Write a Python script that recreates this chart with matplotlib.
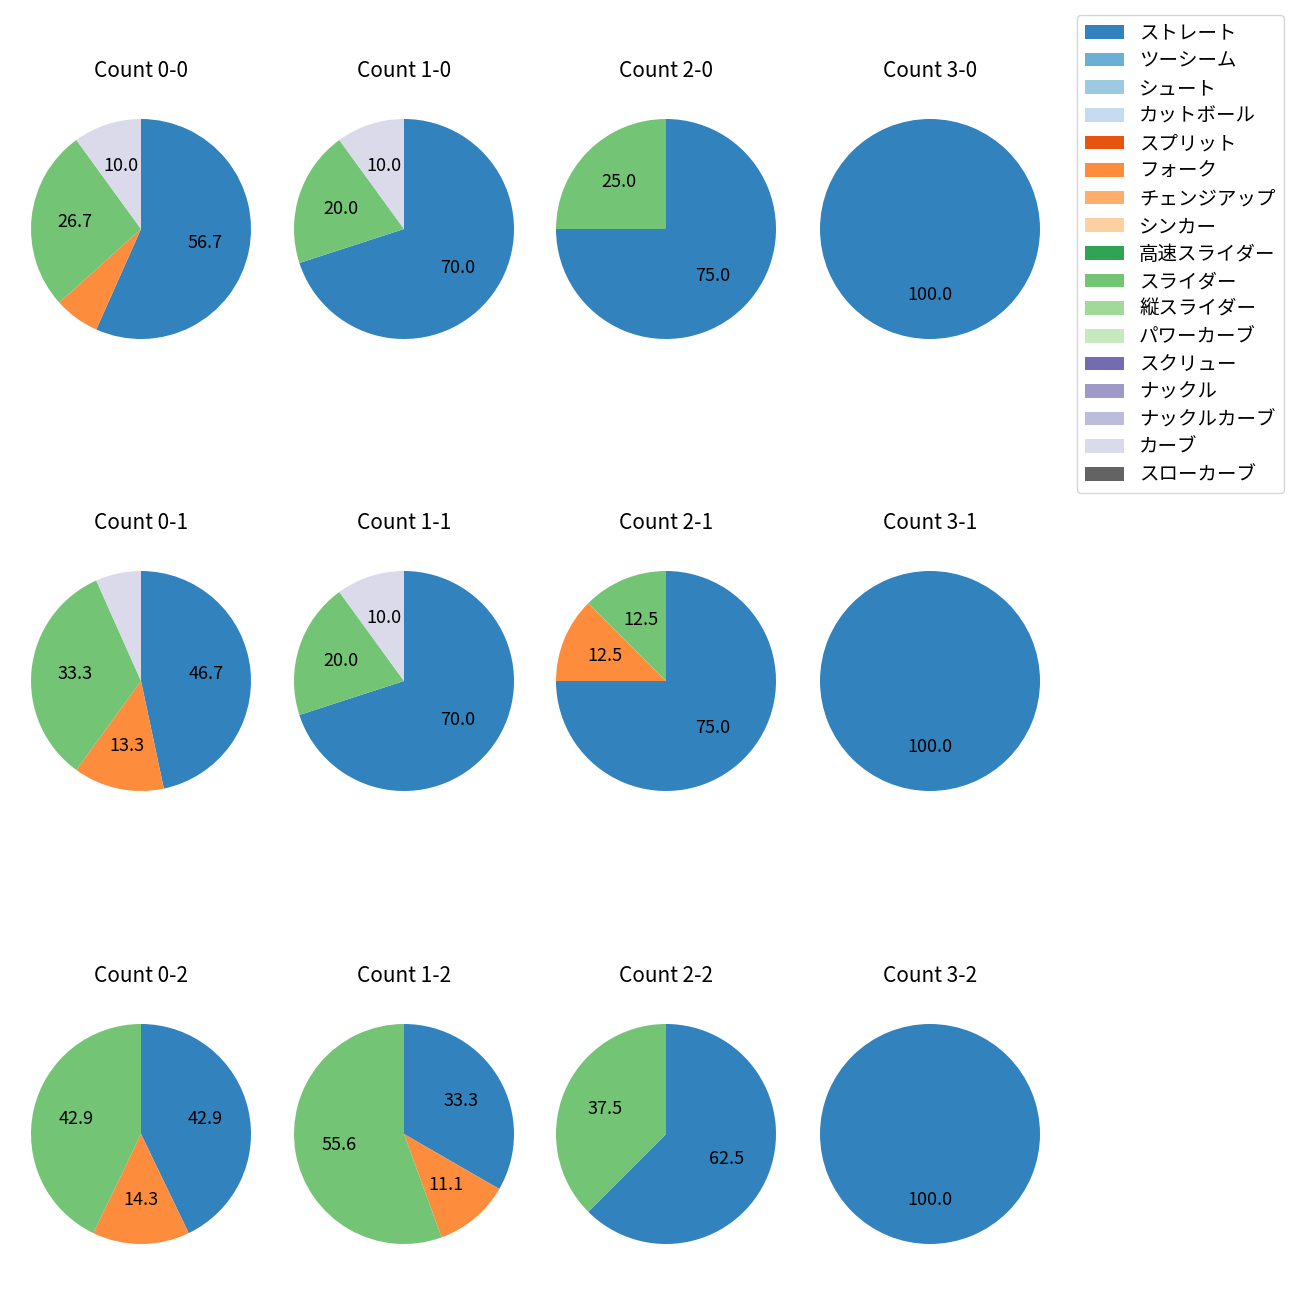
import matplotlib
matplotlib.use('Agg')
import matplotlib.pyplot as plt
from matplotlib.patches import Patch

plt.rcParams['font.family'] = ['Noto Sans CJK JP', 'DejaVu Sans']

pitch_types = ['ストレート', 'ツーシーム', 'シュート', 'カットボール', 'スプリット',
               'フォーク', 'チェンジアップ', 'シンカー', '高速スライダー', 'スライダー',
               '縦スライダー', 'パワーカーブ', 'スクリュー', 'ナックル', 'ナックルカーブ',
               'カーブ', 'スローカーブ']

# count situations, row = strikes, column = balls
count_labels = ['0-0', '1-0', '2-0', '3-0',
                '0-1', '1-1', '2-1', '3-1',
                '0-2', '1-2', '2-2', '3-2']

# pitches thrown per count
straight = [17, 7, 3, 1, 7, 7, 6, 2, 3, 3, 5, 1]
fork = [2, 0, 0, 0, 2, 0, 1, 0, 1, 1, 0, 0]
slider = [8, 2, 1, 0, 5, 2, 1, 0, 3, 5, 3, 0]
curve = [3, 1, 0, 0, 1, 1, 0, 0, 0, 0, 0, 0]

cmap = plt.get_cmap('tab20c')
colors = [cmap(i) for i in range(len(pitch_types))]
series = {'ストレート': straight, 'フォーク': fork, 'スライダー': slider, 'カーブ': curve}

fig = plt.figure(figsize=(13, 13), dpi=100)

side = 275 / 1300
col_x = [141, 404, 666, 930]
row_y = [229, 681, 1134]


def pct_fmt(p):
    return f'{p:.1f}' if p >= 10 else ''


for i, lab in enumerate(count_labels):
    r, c = divmod(i, 4)
    cx = col_x[c] / 1300
    cy = 1 - row_y[r] / 1300
    ax = fig.add_axes([cx - side / 2, cy - side / 2, side, side])
    vals, cols = [], []
    for name in pitch_types:
        if name in series and series[name][i] > 0:
            vals.append(series[name][i])
            cols.append(colors[pitch_types.index(name)])
    ax.pie(vals, colors=cols, startangle=90, counterclock=False,
           autopct=pct_fmt, textprops={'fontsize': 13})
    ax.set_title(f'Count {lab}', fontsize=15, pad=10.5)

handles = [Patch(facecolor=colors[k], label=pitch_types[k]) for k in range(len(pitch_types))]
fig.legend(handles=handles, loc='upper left', bbox_to_anchor=(1077 / 1300, 1 - 15 / 1300),
           borderaxespad=0, fontsize=14, labelspacing=0.34)

fig.savefig('out.png', dpi=100)
